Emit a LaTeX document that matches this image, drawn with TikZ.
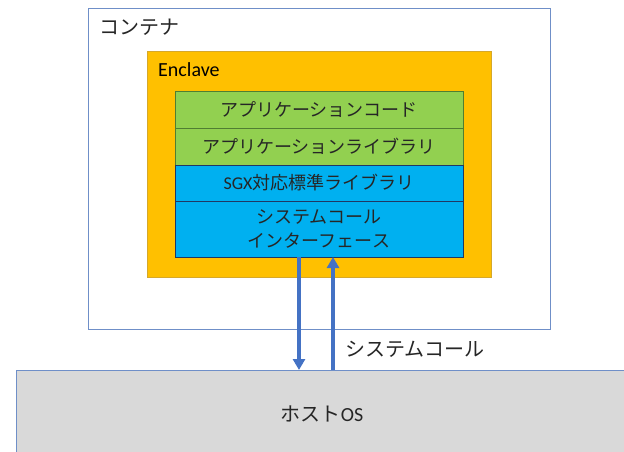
\documentclass[tikz,border=0pt]{standalone}
\usepackage{fontspec}
\setmainfont{Carlito}
\newfontfamily\jp{Noto Sans CJK JP}
\usetikzlibrary{arrows.meta}
\definecolor{contb}{HTML}{6F8FC8}
\definecolor{encfill}{HTML}{FFC000}
\definecolor{encb}{HTML}{D6A82A}
\definecolor{grn}{HTML}{92D050}
\definecolor{grnb}{HTML}{507E32}
\definecolor{blu}{HTML}{00B0F0}
\definecolor{blub}{HTML}{203864}
\definecolor{hostg}{HTML}{D9D9D9}
\definecolor{hostb}{HTML}{6F8FC8}
\definecolor{arrc}{HTML}{4472C4}
\definecolor{txt}{HTML}{262626}
\begin{document}
\begin{tikzpicture}[x=1pt,y=-1pt,
  box/.style={anchor=north west, inner sep=0pt, outer sep=0pt},
  rowbox/.style={box, minimum width=288pt, line width=0.9pt, align=center,
    text=txt, font=\jp\fontsize{18}{24}\selectfont},
  greenrow/.style={rowbox, fill=grn, draw=grnb},
  bluerow/.style={rowbox, fill=blu, draw=blub},
  arr/.style={draw=arrc, line width=3.5pt, -{Triangle[width=12pt,length=11pt]}},
  lbl/.style={anchor=west, inner sep=0pt, text=txt, font=\jp\fontsize{20}{24}\selectfont}]
\useasboundingbox (0,0) rectangle (624,452);
\clip (0,0) rectangle (624,452);
\fill[white] (0,0) rectangle (624,452);
% container
\node[box, draw=contb, line width=1pt, minimum width=462pt, minimum height=320pt] (cont) at (88,9) {};
\node[lbl] (contlbl) at (99,27) {コンテナ};
% enclave
\node[box, draw=encb, fill=encfill, line width=0.8pt, minimum width=344pt, minimum height=226pt] (encl) at (147,51) {};
\node[anchor=west, inner sep=0pt, text=black, font=\fontsize{20}{24}\selectfont] (encllbl) at (158,70) {Enclave};
% rows
\node[greenrow, minimum height=37pt] (r1) at (175,91) {アプリケーションコード};
\node[greenrow, minimum height=37pt] (r2) at (175,128) {アプリケーションライブラリ};
\node[bluerow, minimum height=36pt] (r3) at (175,165) {{\fontspec{Carlito}SGX}対応標準ライブラリ};
\node[bluerow, minimum height=56pt] (r4) at (175,201) {システムコール\\インターフェース};
% host
\node[box, draw=hostb, fill=hostg, line width=1pt, minimum width=612pt, minimum height=88pt,
  text=txt, font=\jp\fontsize{20}{24}\selectfont] (host) at (16,370) {ホスト{\fontspec{Carlito}OS}};
% arrows
\draw[arr] ([xshift=124pt]r4.south west) -- ([xshift=124pt]r4.south west |- host.north);
\draw[arr] ([xshift=158pt]r4.south west |- host.north) -- ([xshift=158pt]r4.south west);
\node[lbl] (sclbl) at (345,349) {システムコール};
\end{tikzpicture}
\end{document}
